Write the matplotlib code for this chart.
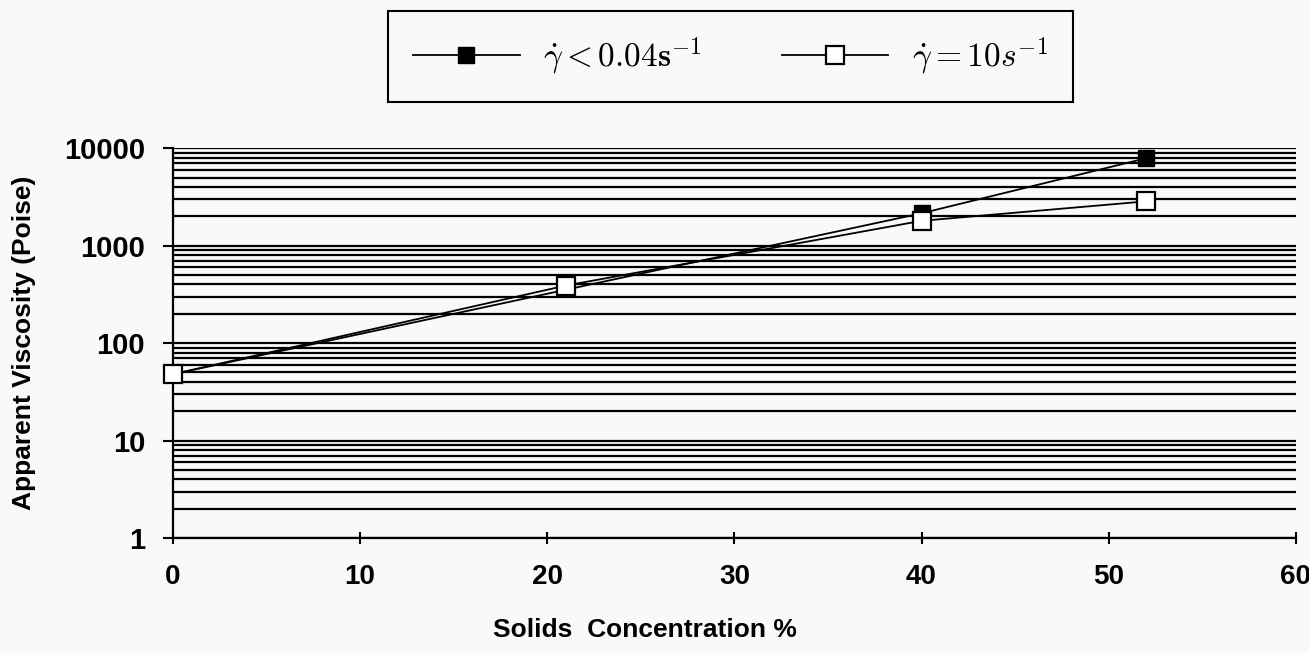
import numpy as np
import matplotlib.pyplot as plt

plt.rcParams['font.family'] = ['Liberation Sans', 'DejaVu Sans']
plt.rcParams['mathtext.fontset'] = 'cm'

# data
conc_low = [0, 40, 52]
visc_low = [48, 2150, 7900]      # shear rate < 0.04 1/s
conc_high = [0, 21, 40, 52]
visc_high = [48, 390, 1800, 2850]  # shear rate = 10 1/s

xticks = [0, 10, 20, 30, 40, 50, 60]
yticks = [1, 10, 100, 1000, 10000]

fig = plt.figure(figsize=(13.09, 6.53), dpi=100, facecolor='#f9f9f9')
ax = fig.add_axes([0.132, 0.176, 0.858, 0.597])
ax.set_facecolor('#f9f9f9')

ax.set_yscale('log')
ax.set_ylim(1, 10000)
ax.set_xlim(0, 60)

# horizontal grid on every major and minor decade line
ax.grid(True, which='both', axis='y', color='black', linewidth=1.6)
ax.grid(False, axis='x')
ax.set_axisbelow(True)

l1, = ax.plot(conc_low, visc_low, color='black', linewidth=1.3, marker='s',
              markersize=12, markerfacecolor='black', markeredgecolor='black',
              zorder=3, clip_on=False)
l2, = ax.plot(conc_high, visc_high, color='black', linewidth=1.3, marker='s',
              markersize=13, markerfacecolor='white', markeredgecolor='black',
              markeredgewidth=1.6, zorder=4, clip_on=False)

ax.set_xticks(xticks)
ax.set_xticklabels([str(v) for v in xticks])
ax.set_yticks(yticks)
ax.set_yticklabels([str(v) for v in yticks])
ax.yaxis.set_minor_formatter(plt.NullFormatter())
ax.tick_params(axis='y', which='minor', length=0)
ax.tick_params(axis='y', which='major', length=7, width=1.5, pad=13,
               labelsize=21)
ax.tick_params(axis='x', which='major', direction='inout', length=8,
               width=1.5, pad=15, labelsize=20)
for lab in ax.get_xticklabels() + ax.get_yticklabels():
    lab.set_fontweight('bold')

for s in ['top', 'right']:
    ax.spines[s].set_visible(False)
for s in ['left', 'bottom']:
    ax.spines[s].set_linewidth(1.6)

ax.set_xlabel('Solids  Concentration %', fontsize=19, fontweight='bold')
ax.xaxis.set_label_coords(0.42, -0.205)
ax.set_ylabel('Apparent Viscosity (Poise)', fontsize=19, fontweight='bold')
ax.yaxis.set_label_coords(-0.122, 0.5)

leg = fig.legend([l1, l2],
                 [r'$\dot{\gamma} < \mathbf{0.04s}^{\mathbf{-1}}$',
                  r'$\dot{\gamma} = \mathbf{10}s^{\mathbf{-1}}$'],
                 loc='center', bbox_to_anchor=(0.558, 0.9135),
                 ncol=2, fontsize=24, handlelength=3.2, columnspacing=2.4,
                 fancybox=False, edgecolor='black', framealpha=1,
                 facecolor='#f9f9f9', borderpad=0.75, handletextpad=0.7,
                 borderaxespad=0)
leg.get_frame().set_linewidth(1.5)

fig.savefig('out.png', dpi=100, facecolor=fig.get_facecolor())
